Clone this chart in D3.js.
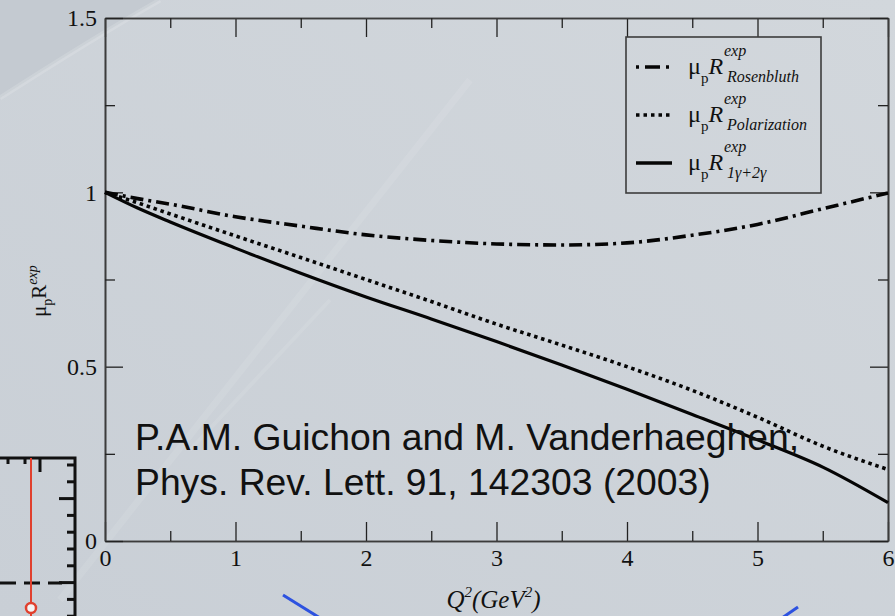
<!DOCTYPE html>
<html>
<head>
<meta charset="utf-8">
<script src="https://cdn.jsdelivr.net/npm/d3@7"></script>
<style>
  html, body { margin: 0; padding: 0; background: #ced4da; }
  svg { display: block; }
  .tick text { font-family: "Liberation Serif", serif; font-size: 24px; fill: #111; }
  .serif { font-family: "Liberation Serif", serif; fill: #111; }
</style>
</head>
<body>
<svg id="canvas" width="895" height="616"></svg>
<script>
'use strict';

// Q^2 sample points (GeV^2) and the three ratios
var q2           = [0, 0.25, 0.5, 1, 1.5, 2, 2.5, 3, 3.5, 4, 4.5, 5, 5.5, 6];
var rosenbluth   = [1, 0.982, 0.966, 0.930, 0.903, 0.878, 0.862, 0.852, 0.849, 0.855, 0.877, 0.908, 0.953, 0.998];
var polarization = [1, 0.970, 0.938, 0.875, 0.813, 0.750, 0.687, 0.622, 0.562, 0.500, 0.432, 0.355, 0.272, 0.205];
var twoPhoton    = [1, 0.955, 0.915, 0.840, 0.768, 0.700, 0.637, 0.572, 0.505, 0.435, 0.363, 0.290, 0.212, 0.110];

// axis ticks
var xMajor = [0, 1, 2, 3, 4, 5, 6];
var xMinor = [0.5, 1.5, 2.5, 3.5, 4.5, 5.5];
var yMajor = [0, 0.5, 1, 1.5];
var yMinor = [0.25, 0.75, 1.25];

// legend entries
var seriesNames = ['Rosenbluth', 'Polarization', '1\u03b3+2\u03b3'];

// citation shown on the slide
var citation = ['P.A.M. Guichon and M. Vanderhaeghen,', 'Phys. Rev. Lett. 91, 142303 (2003)'];

var W = 895, H = 616;
var margin = {top: 18, right: 7, bottom: 75, left: 105};

var svg = d3.select('svg#canvas');

/* slide background */
var defs = svg.append('defs');
var grad = defs.append('linearGradient').attr('id', 'bg')
  .attr('x1', '0').attr('y1', '1').attr('x2', '1').attr('y2', '0');
grad.append('stop').attr('offset', '0').attr('stop-color', '#c9cfd6');
grad.append('stop').attr('offset', '1').attr('stop-color', '#d2d7dc');

svg.append('rect').attr('width', W).attr('height', H).attr('fill', 'url(#bg)');
svg.append('path').attr('d', 'M0,0 H160 Q90,40 0,98 Z').attr('fill', '#c4cad1');
svg.append('path').attr('d', 'M160,0 Q90,40 0,98')
  .attr('fill', 'none').attr('stroke', '#fff').attr('stroke-opacity', 0.15).attr('stroke-width', 5);
// faint light streaks
[['M60,600 L470,80', 7], ['M190,450 L330,300', 4]].forEach(function(s){
  svg.append('path').attr('d', s[0]).attr('stroke', '#fff').attr('stroke-opacity', 0.09)
    .attr('stroke-width', s[1]).attr('fill', 'none');
});

/* pieces of other slide figures peeking in at the bottom */
var deco = svg.append('g').attr('id', 'deco');
deco.append('path').attr('d', 'M0,458 H75 V616').attr('fill', 'none').attr('stroke', '#111').attr('stroke-width', 3);
d3.range(0, 10).forEach(function(i){
  var ty = 465 + i * 16.8;
  var len = (i === 2 || i === 7) ? 16 : 8;
  deco.append('line').attr('x1', 75).attr('x2', 75 - len).attr('y1', ty).attr('y2', ty)
    .attr('stroke', '#111').attr('stroke-width', 3);
});
[[8, 6], [25, 6], [40, 14]].forEach(function(t){
  deco.append('line').attr('x1', t[0]).attr('x2', t[0]).attr('y1', 458).attr('y2', 458 + t[1])
    .attr('stroke', '#111').attr('stroke-width', 3);
});
deco.append('line').attr('x1', 0).attr('x2', 62).attr('y1', 583).attr('y2', 583)
  .attr('stroke', '#111').attr('stroke-width', 3).attr('stroke-dasharray', '16,8');
deco.append('line').attr('x1', 31).attr('x2', 31).attr('y1', 458).attr('y2', 616)
  .attr('stroke', '#e0402e').attr('stroke-width', 2);
deco.append('circle').attr('cx', 31).attr('cy', 608).attr('r', 5)
  .attr('fill', '#f4f4f4').attr('stroke', '#e0402e').attr('stroke-width', 2.5);
deco.append('line').attr('x1', 283).attr('y1', 595).attr('x2', 320).attr('y2', 618)
  .attr('stroke', '#2d52e0').attr('stroke-width', 3);
deco.append('line').attr('x1', 782).attr('y1', 618).attr('x2', 798).attr('y2', 607)
  .attr('stroke', '#2d52e0').attr('stroke-width', 3);

/* scales */
var x = d3.scaleLinear().domain([0, 6]).range([margin.left, W - margin.right]);
var y = d3.scaleLinear().domain([0, 1.5]).range([H - margin.bottom, margin.top]);

var graph = svg.append('g').attr('id', 'graph');

function styleAxis(g){
  g.select('.domain').attr('stroke', '#3c3c3c').attr('stroke-width', 1.6);
  g.selectAll('.tick line').attr('stroke', '#222').attr('stroke-width', 1.3);
}

var yBottom = H - margin.bottom, yTop = margin.top, xLeft = margin.left, xRight = W - margin.right;

// major + minor ticks, drawn inward on all four sides
graph.append('g').attr('transform', 'translate(0,' + yBottom + ')')
  .call(d3.axisBottom(x).tickValues(xMajor).tickSize(-19).tickSizeOuter(0).tickPadding(8).tickFormat(d3.format('d')))
  .call(styleAxis);
graph.append('g').attr('transform', 'translate(0,' + yBottom + ')')
  .call(d3.axisBottom(x).tickValues(xMinor).tickSize(-10).tickSizeOuter(0).tickFormat(''))
  .call(styleAxis);
graph.append('g').attr('transform', 'translate(0,' + yTop + ')')
  .call(d3.axisTop(x).tickValues(xMajor).tickSize(-19).tickSizeOuter(0).tickFormat(''))
  .call(styleAxis);
graph.append('g').attr('transform', 'translate(0,' + yTop + ')')
  .call(d3.axisTop(x).tickValues(xMinor).tickSize(-10).tickSizeOuter(0).tickFormat(''))
  .call(styleAxis);
graph.append('g').attr('transform', 'translate(' + xLeft + ',0)')
  .call(d3.axisLeft(y).tickValues(yMajor).tickSize(-18).tickSizeOuter(0).tickPadding(8).tickFormat(function(d){ return String(d); }))
  .call(styleAxis);
graph.append('g').attr('transform', 'translate(' + xLeft + ',0)')
  .call(d3.axisLeft(y).tickValues(yMinor).tickSize(-10).tickSizeOuter(0).tickFormat(''))
  .call(styleAxis);
graph.append('g').attr('transform', 'translate(' + xRight + ',0)')
  .call(d3.axisRight(y).tickValues(yMajor).tickSize(-18).tickSizeOuter(0).tickFormat(''))
  .call(styleAxis);
graph.append('g').attr('transform', 'translate(' + xRight + ',0)')
  .call(d3.axisRight(y).tickValues(yMinor).tickSize(-10).tickSizeOuter(0).tickFormat(''))
  .call(styleAxis);

/* curves */
var styles = [
  {values: rosenbluth,   dash: '13,5,3,5', width: 3.6},
  {values: polarization, dash: '3.5,3.8',  width: 3.6},
  {values: twoPhoton,    dash: null,       width: 3.2}
];
var line = d3.line().curve(d3.curveMonotoneX)
  .x(function(d){ return x(d[0]); })
  .y(function(d){ return y(d[1]); });

styles.forEach(function(s){
  graph.append('path')
    .datum(d3.zip(q2, s.values))
    .attr('d', line)
    .attr('fill', 'none')
    .attr('stroke', '#050505')
    .attr('stroke-width', s.width)
    .attr('stroke-dasharray', s.dash);
});

/* axis titles */
var xt = graph.append('text').attr('class', 'serif')
  .attr('x', (xLeft + xRight) / 2 - 3).attr('y', 608)
  .attr('text-anchor', 'middle').attr('font-size', 25).attr('font-style', 'italic');
xt.append('tspan').text('Q');
xt.append('tspan').attr('dy', -11).attr('font-size', 15).text('2');
xt.append('tspan').attr('dy', 11).text('(GeV');
xt.append('tspan').attr('dy', -11).attr('font-size', 15).text('2');
xt.append('tspan').attr('dy', 11).text(')');

var yt = graph.append('text').attr('class', 'serif')
  .attr('transform', 'translate(46,317) rotate(-90)').attr('font-size', 21);
yt.append('tspan').text('\u03bc');
yt.append('tspan').attr('dy', 6).attr('font-size', 14).text('p');
yt.append('tspan').attr('dy', -6).text('R');
yt.append('tspan').attr('dy', -9).attr('font-size', 14).attr('font-style', 'italic').text('exp');

/* legend */
var lg = graph.append('g').attr('id', 'legend');
lg.append('rect').attr('x', 626).attr('y', 37).attr('width', 195).attr('height', 156)
  .attr('fill', 'none').attr('stroke', '#3c3c3c').attr('stroke-width', 1.6);
var legendDash = ['3,6,15,6,3', '3.5,4', null];
seriesNames.forEach(function(name, i){
  var ly = 67 + i * 48;
  lg.append('line').attr('x1', 636).attr('x2', 672).attr('y1', ly).attr('y2', ly)
    .attr('stroke', '#050505').attr('stroke-width', 3.4).attr('stroke-dasharray', legendDash[i]);
  // one text element: mu_p R, then superscript and subscript stacked after R
  var t = lg.append('text').attr('class', 'serif').attr('x', 688).attr('y', ly + 7).attr('font-size', 24);
  t.append('tspan').text('\u03bc');
  t.append('tspan').attr('dy', 9).attr('font-size', 15).text('p');
  t.append('tspan').attr('dy', -9).attr('font-style', 'italic').text('R');
  t.append('tspan').attr('x', 724).attr('y', ly - 11)
    .attr('font-size', 16).attr('font-style', 'italic').text('exp');
  t.append('tspan').attr('x', 727).attr('y', ly + 15)
    .attr('font-size', 16).attr('font-style', 'italic').text(name);
});

/* citation */
citation.forEach(function(s, i){
  svg.append('text').attr('x', 135).attr('y', 450 + i * 45)
    .attr('font-family', '"Liberation Sans", Arial, sans-serif').attr('font-size', 37.3)
    .attr('fill', '#111').text(s);
});
</script>
</body>
</html>
